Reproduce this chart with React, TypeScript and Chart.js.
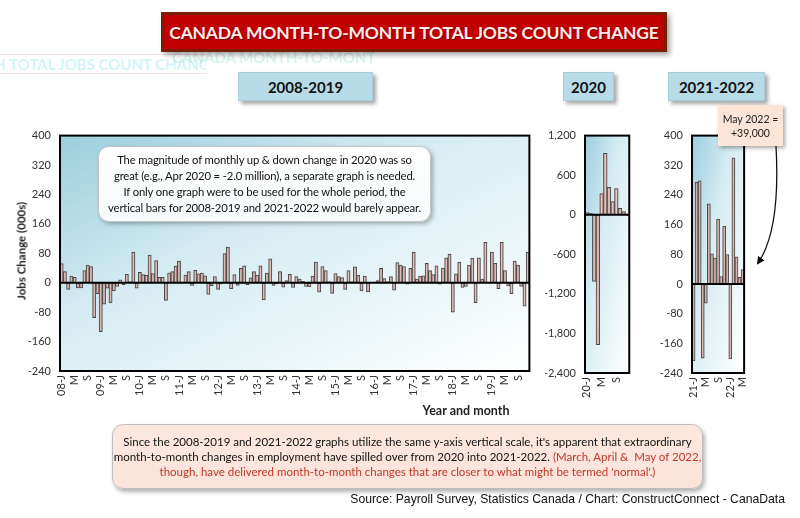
import React, { useEffect, useRef } from 'react';
import { Chart, registerables } from 'chart.js';

Chart.register(...registerables);

// ---- Data (thousands of jobs, month-to-month change) ----
const y2008 = [52, 30, -18, 18, 15, -14, -14, 33, 48, 44, -95, -30];
const y2009 = [-133, -58, -15, -55, -22, -10, 8, -5, 23, 3, 83, -15];
const y2010 = [28, 22, 20, 75, 25, 60, 15, 15, -48, 27, 30, 45];
const y2011 = [59, 2, 21, 30, -7, 34, 24, 26, 19, -32, -8, 17];
const y2012 = [-18, -3, 79, 97, -16, 22, -7, 39, 46, -5, 13, 30];
const y2013 = [21, 46, -47, 26, 65, -7, -3, 30, -12, 6, 23, -13];
const y2014 = [17, 10, 4, -10, -11, 18, 56, -26, 44, 33, 3, -29];
const y2015 = [25, 17, 14, -18, 33, 3, 43, 21, -22, 18, -25, 1];
const y2016 = [2, 6, 39, 11, 3, 17, -20, 55, 48, 44, -4, 39];
const y2017 = [83, 10, 18, 19, 53, 33, 22, 46, -4, 40, 68, 78];
const y2018 = [-80, 24, 56, -13, -10, 48, 67, -54, 68, 10, 110, 2];
const y2019 = [83, 53, -16, 110, 33, -9, -30, 59, 48, -10, -64, 83];

const y2020 = [34, 22, -1010, -1972, 322, 932, 415, 200, 395, 98, 49, -8];

const y2021 = [-207, 274, 278, -200, -52, 216, 81, 70, 175, 20, 156, 79];
const y2022 = [-202, 340, 73, 18, 39];

const years0819 = ['08', '09', '10', '11', '12', '13', '14', '15', '16', '17', '18', '19'];
const monthTickLetters = ['J', '', '', '', 'M', '', '', '', 'S', '', '', ''];

function monthLabels(years: string[], count: number): string[] {
  const out: string[] = [];
  for (let i = 0; i < count; i++) {
    const m = i % 12;
    const yr = years[Math.floor(i / 12)];
    out.push(m === 0 ? `${yr}-J` : monthTickLetters[m]);
  }
  return out;
}

const data0819 = [
  ...y2008, ...y2009, ...y2010, ...y2011, ...y2012, ...y2013,
  ...y2014, ...y2015, ...y2016, ...y2017, ...y2018, ...y2019,
];
const labels0819 = monthLabels(years0819, data0819.length);
const labels2020 = monthLabels(['20'], y2020.length);
const data2122 = [...y2021, ...y2022];
const labels2122 = monthLabels(['21', '22'], data2122.length);

const FONT = 'Lato, "Open Sans", sans-serif';

const panelPlugin = {
  id: 'panelDeco',
  beforeDatasetsDraw(chart: any) {
    const { ctx, chartArea: a } = chart;
    const w = a.right - a.left;
    const h = a.bottom - a.top;
    ctx.save();
    ctx.translate(a.left, a.top);
    ctx.scale(w, h);
    const g = ctx.createLinearGradient(0, 0, 1, 1);
    g.addColorStop(0, '#9bcedd');
    g.addColorStop(0.4, '#d6ecf2');
    g.addColorStop(1, '#ffffff');
    ctx.fillStyle = g;
    ctx.fillRect(0, 0, 1, 1);
    ctx.restore();
  },
  afterDatasetsDraw(chart: any) {
    const { ctx, chartArea: a } = chart;
    const y0 = chart.scales.y.getPixelForValue(0);
    ctx.save();
    ctx.strokeStyle = '#000';
    ctx.lineWidth = 2;
    ctx.beginPath();
    ctx.moveTo(a.left, y0);
    ctx.lineTo(a.right, y0);
    ctx.stroke();
    ctx.strokeRect(a.left, a.top, a.right - a.left, a.bottom - a.top);
    ctx.restore();
  },
};

type PanelProps = {
  left: number; top: number; width: number; height: number;
  labels: string[]; values: number[];
  min: number; max: number; step: number;
  yWidth: number; padTop: number; padRight: number; xHeight: number;
};

function BarPanel(p: PanelProps) {
  const ref = useRef<HTMLCanvasElement>(null);
  useEffect(() => {
    const chart = new Chart(ref.current as HTMLCanvasElement, {
      type: 'bar',
      data: {
        labels: p.labels,
        datasets: [
          {
            data: p.values,
            backgroundColor: 'rgba(242,192,186,0.75)',
            borderColor: '#4a4a4a',
            borderWidth: 1,
            borderSkipped: false,
            barPercentage: 1,
            categoryPercentage: 1,
          },
        ],
      },
      options: {
        animation: false,
        responsive: false,
        maintainAspectRatio: false,
        layout: { padding: { top: p.padTop, right: p.padRight, left: 0, bottom: 0 } },
        plugins: { legend: { display: false }, tooltip: { enabled: false } },
        scales: {
          x: {
            grid: { display: false, drawTicks: false },
            border: { display: false },
            ticks: {
              autoSkip: false,
              maxRotation: 90,
              minRotation: 90,
              padding: 4,
              color: '#333',
              font: { family: FONT, size: 11 },
            },
            afterFit: (s: any) => { s.height = p.xHeight; },
          },
          y: {
            min: p.min,
            max: p.max,
            grid: { display: false, drawTicks: false },
            border: { display: false },
            ticks: {
              stepSize: p.step,
              padding: 9,
              color: '#333',
              font: { family: FONT, size: 11 },
              callback: (v: any) => Number(v).toLocaleString('en-US'),
            },
            afterFit: (s: any) => { s.width = p.yWidth; },
          },
        },
      },
      plugins: [panelPlugin],
    });
    return () => chart.destroy();
  }, []);
  return (
    <canvas
      ref={ref}
      width={p.width}
      height={p.height}
      style={{ position: 'absolute', left: p.left, top: p.top, width: p.width, height: p.height }}
    />
  );
}

function PeriodBox({ left, width, text }: { left: number; width: number; text: string }) {
  return (
    <div
      style={{
        position: 'absolute', left, top: 72, width, height: 29,
        background: '#b8dce7', border: '1px solid #a9cdd8',
        boxShadow: '3px 3px 4px rgba(0,0,0,0.35)',
        display: 'flex', alignItems: 'center', justifyContent: 'center',
        fontWeight: 700, fontSize: 15, color: '#111', boxSizing: 'border-box',
      }}
    >
      {text}
    </div>
  );
}

export default function App() {
  const red = '#c0392b';
  return (
    <div
      style={{
        position: 'absolute', left: 0, top: 0, width: 800, height: 518,
        background: '#fff', overflow: 'hidden', fontFamily: FONT,
      }}
    >
      {/* faint ghost artifacts */}
      <div style={{ position: 'absolute', left: -6, top: 54, fontSize: 15, fontWeight: 700, color: 'rgba(140,225,240,0.4)', whiteSpace: 'nowrap', borderTop: '1px solid rgba(255,170,220,0.45)', borderBottom: '1px solid rgba(255,170,220,0.45)', width: 212, overflow: 'hidden' }}>
        H TOTAL JOBS COUNT CHANGE
      </div>
      <div style={{ position: 'absolute', left: 172, top: 48, fontSize: 15, fontWeight: 700, color: 'rgba(140,225,200,0.35)', whiteSpace: 'nowrap', width: 228, overflow: 'hidden' }}>
        CANADA MONTH-TO-MONT
      </div>

      {/* Title */}
      <div
        style={{
          position: 'absolute', left: 161, top: 12, width: 506, height: 40,
          background: '#c00000', border: '3px solid #7a1d05', boxSizing: 'border-box',
          boxShadow: '3px 3px 5px rgba(0,0,0,0.35)',
          display: 'flex', alignItems: 'center', justifyContent: 'center',
          color: '#fde9e9', fontWeight: 700, fontSize: 17.5, letterSpacing: -0.2,
          textShadow: '1px 1px 1px rgba(80,0,0,0.6)',
        }}
      >
        CANADA MONTH-TO-MONTH TOTAL JOBS COUNT CHANGE
      </div>

      <PeriodBox left={238} width={135} text="2008-2019" />
      <PeriodBox left={563} width={51} text="2020" />
      <PeriodBox left={668} width={97} text="2021-2022" />

      {/* Charts */}
      <BarPanel left={0} top={120} width={545} height={300} labels={labels0819} values={data0819}
        min={-240} max={400} step={80} yWidth={60} padTop={9} padRight={12} xHeight={49} />
      <BarPanel left={545} top={120} width={100} height={300} labels={labels2020} values={y2020}
        min={-2400} max={1200} step={600} yWidth={40} padTop={9} padRight={9} xHeight={47} />
      <BarPanel left={645} top={120} width={115} height={300} labels={labels2122} values={data2122}
        min={-240} max={400} step={80} yWidth={47} padTop={11} padRight={7} xHeight={47} />

      {/* Y axis title */}
      <div
        style={{
          position: 'absolute', left: 21, top: 251, transform: 'translate(-50%,-50%) rotate(-90deg)',
          fontSize: 11.5, fontWeight: 700, color: '#222', whiteSpace: 'nowrap',
        }}
      >
        Jobs Change (000s)
      </div>

      {/* X axis title */}
      <div
        style={{
          position: 'absolute', left: 466, top: 410, transform: 'translate(-50%,-50%)',
          fontSize: 12.5, fontWeight: 700, color: '#222', whiteSpace: 'nowrap',
        }}
      >
        Year and month
      </div>

      {/* Annotation inside left chart */}
      <div
        style={{
          position: 'absolute', left: 98, top: 146, width: 333, height: 76,
          background: 'linear-gradient(180deg, #ffffff 0%, #f6fafb 100%)',
          border: '1px solid #c4c4c4', borderRadius: 11, boxSizing: 'border-box',
          boxShadow: '2px 2px 4px rgba(0,0,0,0.3)',
          display: 'flex', alignItems: 'center', justifyContent: 'center', textAlign: 'center',
          fontSize: 11.3, letterSpacing: -0.15, lineHeight: '16px', color: '#111', whiteSpace: 'nowrap',
        }}
      >
        <div>
          The magnitude of monthly up &amp; down change in 2020 was so<br />
          great (e.g., Apr 2020 = -2.0 million), a separate graph is needed.<br />
          If only one graph were to be used for the whole period, the<br />
          vertical bars for 2008-2019 and 2021-2022 would barely appear.
        </div>
      </div>

      {/* Callout May 2022 */}
      <div
        style={{
          position: 'absolute', left: 718, top: 105, width: 65, height: 41,
          background: '#fce4d6', boxShadow: '2px 2px 4px rgba(0,0,0,0.35)',
          display: 'flex', alignItems: 'center', justifyContent: 'center', textAlign: 'center',
          fontSize: 10.5, lineHeight: '14px', color: '#222',
        }}
      >
        <div>May 2022 =<br />+39,000</div>
      </div>
      <svg width={800} height={518} style={{ position: 'absolute', left: 0, top: 0, pointerEvents: 'none' }}>
        <defs>
          <marker id="ah" markerWidth="8" markerHeight="8" refX="6" refY="4" orient="auto" markerUnits="userSpaceOnUse">
            <path d="M0,0 L8,4 L0,8 Z" fill="#111" />
          </marker>
        </defs>
        <path d="M 776 146 C 779 200, 774 240, 758 263" stroke="#111" strokeWidth={1.3} fill="none" markerEnd="url(#ah)" />
      </svg>

      {/* Bottom note */}
      <div
        style={{
          position: 'absolute', left: 112, top: 424, width: 591, height: 65,
          background: 'linear-gradient(180deg, #fde7de 0%, #fbe3da 100%)',
          border: '1px solid #bdbdbd', borderRadius: 11, boxSizing: 'border-box',
          boxShadow: '2px 3px 4px rgba(0,0,0,0.3)',
          display: 'flex', alignItems: 'center', justifyContent: 'center', textAlign: 'center',
          fontSize: 11.5, lineHeight: '15px', color: '#111', whiteSpace: 'nowrap',
        }}
      >
        <div>
          Since the 2008-2019 and 2021-2022 graphs utilize the same y-axis vertical scale, it's apparent that extraordinary<br />
          month-to-month changes in employment have spilled over from 2020 into 2021-2022. <span style={{ color: red }}>(March, April &amp;&nbsp; May of 2022,</span><br />
          <span style={{ color: red }}>though, have delivered month-to-month changes that are closer to what might be termed 'normal'.)</span>
        </div>
      </div>

      {/* Source */}
      <div
        style={{
          position: 'absolute', right: 15, top: 492, fontFamily: '"Liberation Sans", Arial, sans-serif',
          fontSize: 12.2, color: '#111', whiteSpace: 'nowrap',
        }}
      >
        Source: Payroll Survey, Statistics Canada / Chart: ConstructConnect - CanaData
      </div>
    </div>
  );
}
